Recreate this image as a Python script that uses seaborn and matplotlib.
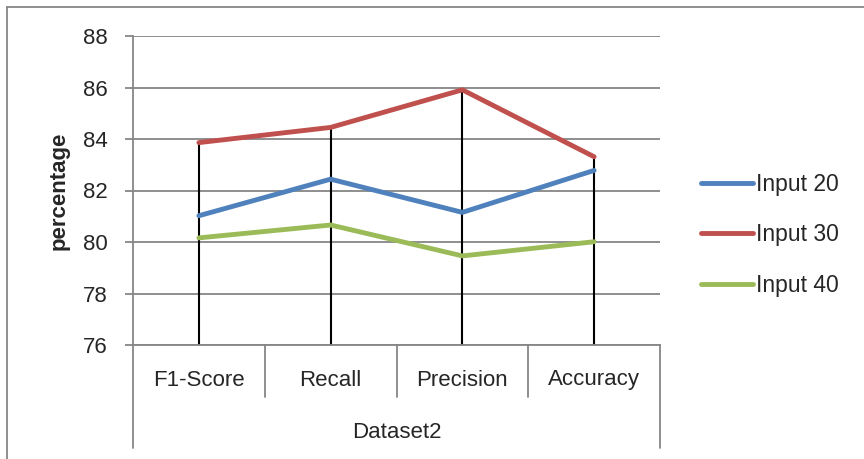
import matplotlib
matplotlib.use("Agg")
import matplotlib.pyplot as plt
import seaborn as sns
import pandas as pd
from matplotlib.lines import Line2D

categories = ["F1-Score", "Recall", "Precision", "Accuracy"]
input20 = [81.02, 82.44, 81.15, 82.78]
input30 = [83.86, 84.45, 85.91, 83.31]
input40 = [80.16, 80.66, 79.46, 80.01]
series_names = ["Input 20", "Input 30", "Input 40"]
y_ticks = [76, 78, 80, 82, 84, 86, 88]
group_label = "Dataset2"

colors = ["#4F81BD", "#C0504D", "#9BBB59"]
grid_c = "#868686"

sns.set_theme(style="white")
plt.rcParams["font.family"] = ["Liberation Sans", "DejaVu Sans"]

rows = []
for name, vals in zip(series_names, [input20, input30, input40]):
    for i, (c, v) in enumerate(zip(categories, vals)):
        rows.append({"pos": i, "category": c, "value": v, "series": name})
df = pd.DataFrame(rows)

fig = plt.figure(figsize=(8.64, 4.59), dpi=100)
ax = fig.add_axes([133/864, 1-345/459, (660-133)/864, (345-36)/459])

# drop lines from max to axis
maxes = df.groupby("pos")["value"].max()
ax.vlines(maxes.index, y_ticks[0], maxes.values, color="black", lw=1.5, zorder=2)

sns.lineplot(data=df, x="pos", y="value", hue="series", palette=colors,
             linewidth=3.5, ax=ax, legend=False, zorder=3)
for l in ax.lines:
    l.set_solid_capstyle("round")

ax.set_xlim(-0.5, len(categories) - 0.5)
ax.set_ylim(y_ticks[0], y_ticks[-1])
ax.set_yticks(y_ticks)
ax.set_yticklabels([str(t) for t in y_ticks], fontsize=16)
ax.yaxis.grid(True, color=grid_c, lw=1.3)
ax.set_axisbelow(True)
ax.set_xticks([])
ax.set_xlabel("")
ax.set_ylabel("percentage", fontsize=16, fontweight="bold", labelpad=10)
ax.tick_params(axis="y", which="major", length=6, width=1.3, color=grid_c,
               left=True, pad=12)
for s in ["top", "right"]:
    ax.spines[s].set_visible(False)
for s in ["left", "bottom"]:
    ax.spines[s].set_color(grid_c)
    ax.spines[s].set_linewidth(1.3)

# category separators and labels below axis
tr = ax.get_xaxis_transform()
ah = 309.0
for j in range(len(categories) + 1):
    x = j - 0.5
    low = -103/ah if j in (0, len(categories)) else -52/ah
    ax.add_line(Line2D([x, x], [0, low], transform=tr, color=grid_c,
                       lw=1.3, clip_on=False))
for i, c in enumerate(categories):
    ax.text(i, -35/ah, c, transform=tr, ha="center", va="center", fontsize=16)
ax.text((len(categories) - 1)/2, -87/ah, group_label, transform=tr,
        ha="center", va="center", fontsize=16)

handles = [Line2D([], [], color=c, lw=3.5, solid_capstyle="round") for c in colors]
fig.legend(handles, series_names, loc="center left",
           bbox_to_anchor=(680/864, 1-235/459), frameon=False, fontsize=16.5,
           handlelength=2.3, handletextpad=0.1, labelspacing=1.2)

# chart border (top and left)
fig.add_artist(Line2D([7/864, 7/864], [0, 1-7/459], transform=fig.transFigure,
                      color=grid_c, lw=1.3))
fig.add_artist(Line2D([7/864, 1], [1-7/459, 1-7/459], transform=fig.transFigure,
                      color=grid_c, lw=1.3))

fig.savefig("out.png", dpi=100)
